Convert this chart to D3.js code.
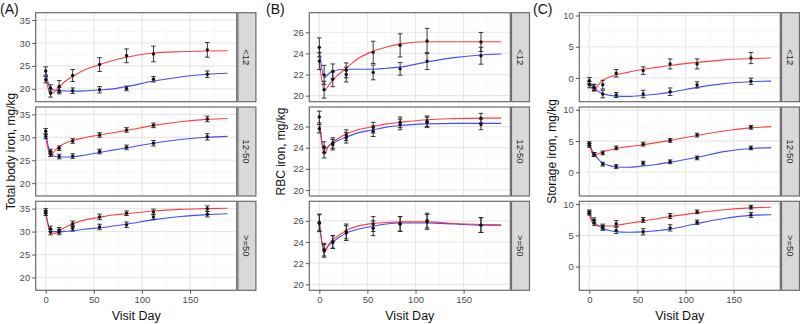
<!DOCTYPE html>
<html><head><meta charset="utf-8">
<script src="https://cdn.jsdelivr.net/npm/d3@7"></script>
<style>body{margin:0;background:#fff}svg{display:block;font-family:"Liberation Sans",Arial,sans-serif}</style>
</head><body><svg id="c" width="800" height="324"></svg>
<script>
// ---------------- data ----------------
const visitDays = [0, 5, 14, 28, 56, 84, 112, 168];
const curveDays = [0, 5, 10, 14, 20, 28, 40, 56, 70, 84, 112, 140, 168, 189];
const rowLabels = ["<12", "12-50", ">=50"];
const panelLetters = ["(A)", "(B)", "(C)"];
const yTitles = ["Total body iron, mg/kg", "RBC iron, mg/kg", "Storage iron, mg/kg"];
const xTitle = "Visit Day";
const xTicks = [0, 50, 100, 150];
const yTicksA = [20, 25, 30, 35];
const yTicksB = [20, 22, 24, 26];
const yTicksC = [0, 5, 10];

// Panel A: total body iron (rows: <12, 12-50, >=50)
const tbiRedMean = [[22.0,19.1,20.5,22.9,25.3,27.2,27.6,28.5],[30.2,26.3,27.6,29.2,30.5,31.6,32.6,34.0],[34.0,29.9,30.3,31.7,33.2,34.0,34.3,35.0]];
const tbiRedErr  = [[0.7,0.9,1.3,1.3,1.5,1.5,1.7,1.6],[0.5,0.5,0.5,0.5,0.5,0.5,0.5,0.6],[0.5,0.6,0.6,0.6,0.6,0.5,0.6,0.6]];
const tbiBlueMean= [[23.9,20.2,19.6,19.6,19.8,20.1,22.1,23.2],[31.3,26.9,25.8,25.9,26.9,27.8,28.7,30.1],[34.5,30.6,29.9,30.7,31.0,31.5,33.2,33.8]];
const tbiBlueErr = [[0.9,0.7,0.7,0.6,0.7,0.5,0.6,0.7],[0.6,0.5,0.5,0.5,0.5,0.5,0.6,0.7],[0.5,0.6,0.6,0.6,0.6,0.6,0.6,0.6]];
const tbiRedFit  = [[22.6,18.8,19.5,20.4,21.6,22.7,24.1,25.3,26.2,26.9,27.8,28.1,28.25,28.3],[30.0,26.0,27.2,28.0,28.7,29.3,29.9,30.5,31.0,31.5,32.6,33.4,33.9,34.1],[34.0,29.8,29.6,30.2,30.9,31.7,32.5,33.1,33.6,33.9,34.5,34.85,35.0,35.1]];
const tbiBlueFit = [[23.8,20.0,19.7,19.6,19.55,19.5,19.55,19.75,20.0,20.5,21.7,22.6,23.2,23.4],[31.0,26.4,25.8,25.7,25.7,25.75,26.1,26.7,27.2,27.7,28.7,29.5,30.0,30.2],[34.3,30.2,30.0,30.0,30.05,30.2,30.5,30.8,31.2,31.6,32.6,33.3,33.7,33.9]];

// Panel B: RBC iron
const rbcRedMean = [[23.27,20.57,21.55,22.0,24.1,24.76,25.17,25.08],[25.8,23.53,24.28,24.94,25.9,26.4,26.5,26.8],[25.84,23.16,24.0,25.0,25.7,25.72,26.03,25.6]];
const rbcRedErr  = [[0.8,0.8,0.7,0.7,1.05,1.1,1.2,0.9],[0.4,0.5,0.5,0.5,0.5,0.5,0.5,0.45],[0.8,0.6,0.6,0.7,0.7,0.7,0.7,0.7]];
const rbcBlueMean= [[24.57,21.97,22.3,22.4,22.2,22.54,23.27,23.78],[26.9,24.06,24.44,25.19,25.56,26.2,26.4,26.2],[25.78,23.28,24.0,24.84,25.3,25.7,25.9,25.6]];
const rbcBlueErr = [[0.9,0.9,0.7,0.7,0.7,0.6,0.8,0.8],[0.55,0.5,0.5,0.5,0.5,0.5,0.5,0.5],[0.8,0.6,0.6,0.7,0.7,0.7,0.7,0.7]];
const rbcRedFit  = [[23.4,20.5,21.0,21.5,22.0,22.6,23.5,24.2,24.6,24.9,25.1,25.1,25.1,25.1],[26.4,23.4,24.2,24.5,24.9,25.3,25.7,26.0,26.25,26.4,26.65,26.75,26.8,26.8],[25.9,23.0,23.8,24.2,24.6,25.1,25.5,25.75,25.85,25.9,25.9,25.75,25.65,25.6]];
const rbcBlueFit = [[24.5,21.7,22.1,22.3,22.45,22.5,22.5,22.5,22.6,22.7,23.2,23.6,23.85,23.95],[26.6,23.8,24.2,24.4,24.7,25.0,25.4,25.7,25.95,26.1,26.25,26.3,26.3,26.3],[25.9,23.2,23.7,24.0,24.4,24.85,25.2,25.5,25.7,25.8,25.8,25.7,25.6,25.6]];

// Panel C: storage iron
const stoRedMean = [[-1.07,-1.5,-1.07,0.75,1.18,2.25,2.25,3.2],[4.3,2.86,3.1,3.9,4.5,5.1,5.95,7.2],[8.54,7.0,6.4,6.86,7.46,8.1,8.76,9.5]];
const stoRedErr  = [[0.5,0.5,0.7,0.6,0.6,0.8,0.8,0.9],[0.3,0.3,0.3,0.3,0.3,0.3,0.3,0.3],[0.3,0.4,0.4,0.5,0.4,0.4,0.3,0.3]];
const stoBlueMean= [[-0.43,-1.6,-2.57,-2.73,-2.57,-2.2,-1.12,-0.53],[4.6,2.86,1.3,0.92,1.46,1.68,2.3,3.9],[8.76,7.4,6.2,5.8,5.57,6.2,7.1,8.27]];
const stoBlueErr = [[0.5,0.5,0.6,0.4,0.6,0.6,0.5,0.5],[0.3,0.3,0.3,0.3,0.3,0.3,0.3,0.3],[0.3,0.4,0.4,0.5,0.5,0.5,0.35,0.4]];
const stoRedFit  = [[-0.8,-2.0,-1.0,-0.4,0.1,0.5,0.9,1.4,1.7,2.0,2.5,2.9,3.1,3.2],[4.4,2.7,3.0,3.3,3.5,3.8,4.1,4.4,4.75,5.1,5.9,6.6,7.1,7.3],[8.3,6.7,6.5,6.5,6.5,6.6,6.9,7.3,7.65,8.0,8.6,9.1,9.4,9.5]];
const stoBlueFit = [[-0.7,-1.6,-2.2,-2.5,-2.75,-2.9,-2.95,-2.8,-2.6,-2.3,-1.5,-0.9,-0.6,-0.5],[4.5,2.9,2.0,1.5,1.1,0.85,0.8,1.0,1.25,1.6,2.4,3.3,3.8,3.95],[8.5,7.1,6.5,6.1,5.8,5.6,5.5,5.55,5.75,6.0,6.9,7.7,8.2,8.3]];

// ---------------- layout ----------------
const svg = d3.select("#c");
const rowTop = [12.7, 107, 201.3], rowH = 89;
const panels = [
  {left:35.7, right:236.7, yDom:[17.2,36.6], yTicks:yTicksA, yMinor:[17.5,22.5,27.5,32.5], titleX:10.5, letterX:0,
   data:[tbiRedMean,tbiRedErr,tbiBlueMean,tbiBlueErr,tbiRedFit,tbiBlueFit]},
  {left:309.3, right:510.3, yDom:[19.43,27.85], yTicks:yTicksB, yMinor:[21,23,25,27], titleX:281, letterX:266,
   data:[rbcRedMean,rbcRedErr,rbcBlueMean,rbcBlueErr,rbcRedFit,rbcBlueFit]},
  {left:579.3, right:780.3, yDom:[-3.8,10.45], yTicks:yTicksC, yMinor:[-2.5,2.5,7.5], titleX:552, letterX:533,
   data:[stoRedMean,stoRedErr,stoBlueMean,stoBlueErr,stoRedFit,stoBlueFit]}
];
const xMinor = [25, 75, 125, 175];
const RED = "#ff2b2b", BLUE = "#2f3dff";
const font = '"Liberation Sans",Arial,sans-serif';

panels.forEach((p, pi) => {
  const x = d3.scaleLinear().domain([-10.4, 198.5]).range([p.left, p.right]);
  const [rM, rE, bM, bE, rF, bF] = p.data;
  rowLabels.forEach((lab, ri) => {
    const top = rowTop[ri];
    const y = d3.scaleLinear().domain(p.yDom).range([top + rowH, top]);
    const g = svg.append("g");
    g.append("rect").attr("x", p.left).attr("y", top).attr("width", p.right - p.left).attr("height", rowH).attr("fill", "#fff");
    // minor grid
    g.selectAll(".mx").data(xMinor).join("line").attr("x1", d => x(d)).attr("x2", d => x(d)).attr("y1", top).attr("y2", top + rowH)
      .attr("stroke", "#f4f4f4").attr("stroke-width", 0.7);
    g.selectAll(".my").data(p.yMinor).join("line").attr("x1", p.left).attr("x2", p.right).attr("y1", d => y(d)).attr("y2", d => y(d))
      .attr("stroke", "#f4f4f4").attr("stroke-width", 0.7);
    // major grid
    g.selectAll(".Mx").data(xTicks).join("line").attr("x1", d => x(d)).attr("x2", d => x(d)).attr("y1", top).attr("y2", top + rowH)
      .attr("stroke", "#e8e8e8").attr("stroke-width", 1.2);
    g.selectAll(".My").data(p.yTicks).join("line").attr("x1", p.left).attr("x2", p.right).attr("y1", d => y(d)).attr("y2", d => y(d))
      .attr("stroke", "#e8e8e8").attr("stroke-width", 1.2);
    // fitted lines
    const line = d3.line().x((d, i) => x(curveDays[i])).y(d => y(d)).curve(d3.curveMonotoneX);
    g.append("path").attr("d", line(bF[ri])).attr("fill", "none").attr("stroke", BLUE).attr("stroke-width", 1.1).attr("stroke-opacity", 0.9);
    g.append("path").attr("d", line(rF[ri])).attr("fill", "none").attr("stroke", RED).attr("stroke-width", 1.1).attr("stroke-opacity", 0.9);
    // error bars + points
    [[rM[ri], rE[ri]], [bM[ri], bE[ri]]].forEach(([means, errs]) => {
      const pts = visitDays.map((d, i) => ({d, m: means[i], e: errs[i]}));
      const eb = g.append("g").attr("stroke", "#222").attr("stroke-width", 0.9);
      eb.selectAll(".v").data(pts).join("line").attr("x1", d => x(d.d)).attr("x2", d => x(d.d))
        .attr("y1", d => y(d.m - d.e)).attr("y2", d => y(d.m + d.e));
      eb.selectAll(".t").data(pts).join("line").attr("x1", d => x(d.d) - 2.3).attr("x2", d => x(d.d) + 2.3)
        .attr("y1", d => y(d.m + d.e)).attr("y2", d => y(d.m + d.e));
      eb.selectAll(".b").data(pts).join("line").attr("x1", d => x(d.d) - 2.3).attr("x2", d => x(d.d) + 2.3)
        .attr("y1", d => y(d.m - d.e)).attr("y2", d => y(d.m - d.e));
      g.selectAll(null).data(pts).join("circle").attr("cx", d => x(d.d)).attr("cy", d => y(d.m)).attr("r", 1.7).attr("fill", "#111");
    });
    // border
    g.append("rect").attr("x", p.left).attr("y", top).attr("width", p.right - p.left).attr("height", rowH)
      .attr("fill", "none").attr("stroke", "#6b6b6b").attr("stroke-width", 1.2);
    // strip
    const sx = p.right + 1.2, sw = 18;
    g.append("rect").attr("x", sx).attr("y", top).attr("width", sw).attr("height", rowH)
      .attr("fill", "#d9d9d9").attr("stroke", "#6b6b6b").attr("stroke-width", 1.2);
    g.append("text").attr("transform", `translate(${sx + sw / 2},${top + rowH / 2}) rotate(90)`)
      .attr("text-anchor", "middle").attr("dominant-baseline", "central").attr("font-size", 9.5).attr("fill", "#222").text(lab);
    // y axis
    const ya = g.append("g").attr("transform", `translate(${p.left},0)`)
      .call(d3.axisLeft(y).tickValues(p.yTicks).tickSize(3.5).tickPadding(2));
    ya.select(".domain").remove();
    ya.selectAll("line").attr("stroke", "#555");
    ya.selectAll("text").attr("font-size", 9.5).attr("fill", "#4d4d4d").attr("font-family", font);
    if (ri === 2) {
      const xa = g.append("g").attr("transform", `translate(0,${top + rowH})`)
        .call(d3.axisBottom(x).tickValues(xTicks).tickSize(3.5).tickPadding(2));
      xa.select(".domain").remove();
      xa.selectAll("line").attr("stroke", "#555");
      xa.selectAll("text").attr("font-size", 9.5).attr("fill", "#4d4d4d").attr("font-family", font);
    }
  });
  // titles
  svg.append("text").attr("x", (p.left + p.right) / 2).attr("y", 320).attr("text-anchor", "middle")
    .attr("font-size", 12.5).attr("fill", "#111").text(xTitle);
  svg.append("text").attr("transform", `translate(${p.titleX},${(rowTop[0] + rowTop[2] + rowH) / 2}) rotate(-90)`)
    .attr("text-anchor", "middle").attr("dominant-baseline", "central").attr("font-size", 12).attr("fill", "#111").text(yTitles[pi]);
  svg.append("text").attr("x", p.letterX).attr("y", 14).attr("font-size", 14).attr("fill", "#111").text(panelLetters[pi]);
});
</script></body></html>
